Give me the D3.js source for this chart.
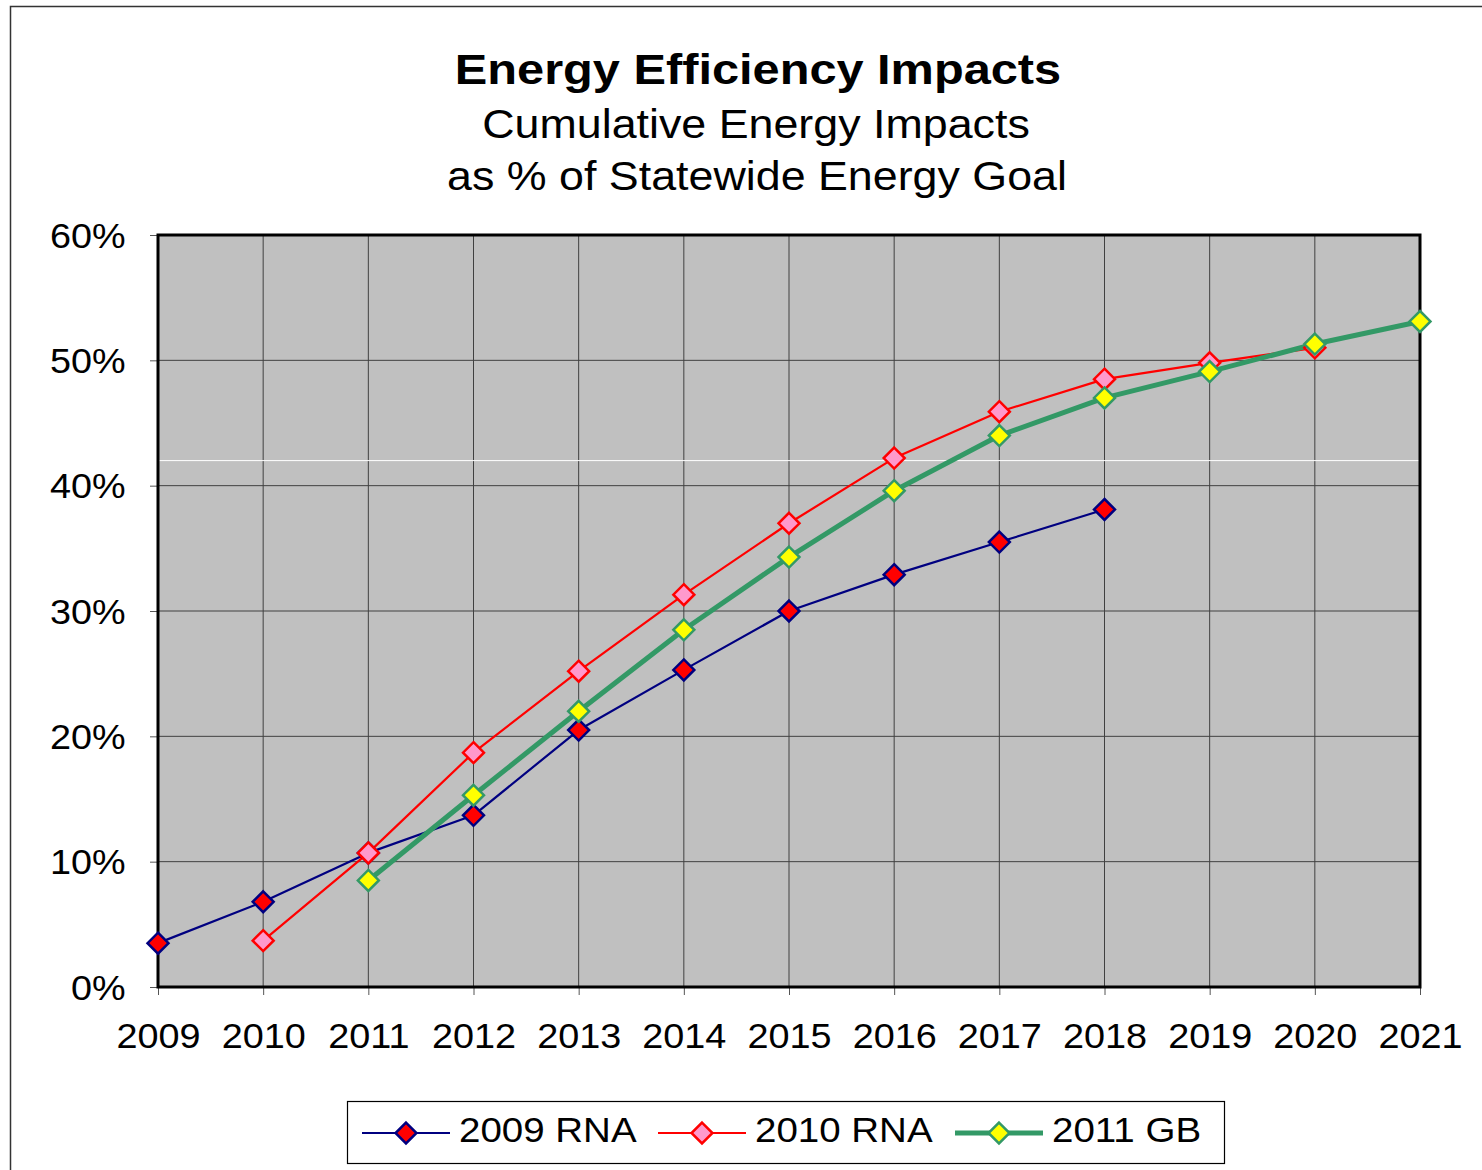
<!DOCTYPE html>
<html>
<head>
<meta charset="utf-8">
<script src="https://cdn.jsdelivr.net/npm/d3@7"></script>
<style>
  body { margin: 0; background: #fff; }
  svg { font-family: "Liberation Sans", Arial, sans-serif; }
</style>
</head>
<body>
<svg width="1482" height="1170"></svg>
<script>
var years = [2009, 2010, 2011, 2012, 2013, 2014, 2015, 2016, 2017, 2018, 2019, 2020, 2021];
var yTicks = [0, 0.1, 0.2, 0.3, 0.4, 0.5, 0.6];

// values by year, null where the series has no point
var rna2009 = [0.035, 0.068, 0.107, 0.137, 0.205, 0.253, 0.300, 0.329, 0.355, 0.381, null, null, null];
var rna2010 = [null, 0.037, 0.107, 0.187, 0.252, 0.313, 0.370, 0.422, 0.459, 0.485, 0.498, 0.510, null];
var gb2011  = [null, null, 0.085, 0.153, 0.220, 0.285, 0.343, 0.396, 0.440, 0.470, 0.491, 0.513, 0.531];

var series = [
  {name: "2009 RNA", values: rna2009, line: "#000080", width: 2.2, fill: "#ff0000", stroke: "#000080"},
  {name: "2010 RNA", values: rna2010, line: "#ff0000", width: 2.2, fill: "#ff99cc", stroke: "#ff0000"},
  {name: "2011 GB",  values: gb2011,  line: "#339966", width: 5,   fill: "#ffff00", stroke: "#339966"}
];

var svg = d3.select("svg"),
    margin = {top: 235, left: 158, right: 62, bottom: 183},
    width = 1482 - margin.left - margin.right,
    height = 1170 - margin.top - margin.bottom;

// outer chart border
svg.append("rect")
    .attr("x", 10.5).attr("y", 6.5)
    .attr("width", 1490).attr("height", 1200)
    .attr("fill", "none").attr("stroke", "#333").attr("stroke-width", 1.5);

// titles (text in the original is a little wider than Arial, hence the x scale)
function title(txt, cx, base, size, bold, sx) {
  svg.append("text")
      .attr("transform", "translate(" + cx + "," + base + ") scale(" + sx + ",1)")
      .attr("text-anchor", "middle")
      .attr("font-size", size)
      .attr("font-weight", bold ? "bold" : "normal")
      .text(txt);
}
title("Energy Efficiency Impacts", 758, 84, 42, true, 1.16);
title("Cumulative Energy Impacts", 756, 138, 40, false, 1.12);
title("as % of Statewide Energy Goal", 757, 190, 40, false, 1.12);

var g = svg.append("g").attr("transform", "translate(" + margin.left + "," + margin.top + ")");

var x = d3.scaleLinear().domain([2009, 2021]).range([0, width]);
var y = d3.scaleLinear().domain([0, 0.6]).range([height, 0]);

g.append("rect").attr("width", width).attr("height", height).attr("fill", "#c0c0c0");

// gridlines
g.selectAll(".hgrid").data(yTicks).enter().append("line")
    .attr("x1", 0).attr("x2", width)
    .attr("y1", function(d) { return y(d); }).attr("y2", function(d) { return y(d); })
    .attr("stroke", "#404040").attr("stroke-width", 1);
g.selectAll(".vgrid").data(years).enter().append("line")
    .attr("y1", 0).attr("y2", height)
    .attr("x1", function(d) { return x(d); }).attr("x2", function(d) { return x(d); })
    .attr("stroke", "#404040").attr("stroke-width", 1);

// faint white line seen in the original
g.append("line").attr("x1", 0).attr("x2", width)
    .attr("y1", y(0.42)).attr("y2", y(0.42))
    .attr("stroke", "#fff").attr("stroke-width", 1);

// axes
var yAxis = g.append("g")
    .call(d3.axisLeft(y).tickValues(yTicks).tickFormat(d3.format(".0%")).tickSize(8).tickPadding(22));
var xAxis = g.append("g")
    .attr("transform", "translate(0," + height + ")")
    .call(d3.axisBottom(x).tickValues(years).tickFormat(d3.format("d")).tickSize(8).tickPadding(28));
[yAxis, xAxis].forEach(function(a) {
  a.select(".domain").remove();
  a.selectAll(".tick line").attr("stroke", "#555");
  a.selectAll("text").attr("font-size", 35).attr("fill", "#000")
      .attr("font-family", "'Liberation Sans', Arial, sans-serif")
      .attr("transform", "scale(1.08,1)");
});
yAxis.selectAll("text").attr("dy", "0.35em");

// frame
g.append("rect").attr("width", width).attr("height", height)
    .attr("fill", "none").attr("stroke", "#000").attr("stroke-width", 3);

var diamond = d3.symbol().type(d3.symbolDiamond2).size(280);

var line = d3.line()
    .defined(function(d) { return d != null; })
    .x(function(d, i) { return x(years[i]); })
    .y(function(d) { return y(d); });

series.forEach(function(s) {
  g.append("path")
      .datum(s.values)
      .attr("fill", "none")
      .attr("stroke", s.line)
      .attr("stroke-width", s.width)
      .attr("stroke-linejoin", "round")
      .attr("d", line);
});

series.forEach(function(s) {
  var pts = s.values.map(function(v, i) { return {year: years[i], value: v}; })
      .filter(function(d) { return d.value != null; });
  g.selectAll(null).data(pts).enter().append("path")
      .attr("d", diamond)
      .attr("transform", function(d) { return "translate(" + x(d.year) + "," + y(d.value) + ")"; })
      .attr("fill", s.fill).attr("stroke", s.stroke).attr("stroke-width", 2.5);
});

// legend
var legend = svg.append("g");
legend.append("rect").attr("x", 347.5).attr("y", 1101.5).attr("width", 877).attr("height", 62)
    .attr("fill", "#fff").attr("stroke", "#000").attr("stroke-width", 1.2);
var legendX = [362, 658, 955];
series.forEach(function(s, i) {
  var lx = legendX[i], ly = 1133;
  legend.append("line").attr("x1", lx).attr("x2", lx + 88).attr("y1", ly).attr("y2", ly)
      .attr("stroke", s.line).attr("stroke-width", s.width);
  legend.append("path").attr("d", diamond)
      .attr("transform", "translate(" + (lx + 44) + "," + ly + ")")
      .attr("fill", s.fill).attr("stroke", s.stroke).attr("stroke-width", 2.5);
  legend.append("text")
      .attr("transform", "translate(" + (lx + 97) + ",1142) scale(1.1,1)")
      .attr("font-size", 35)
      .text(s.name);
});
</script>
</body>
</html>
